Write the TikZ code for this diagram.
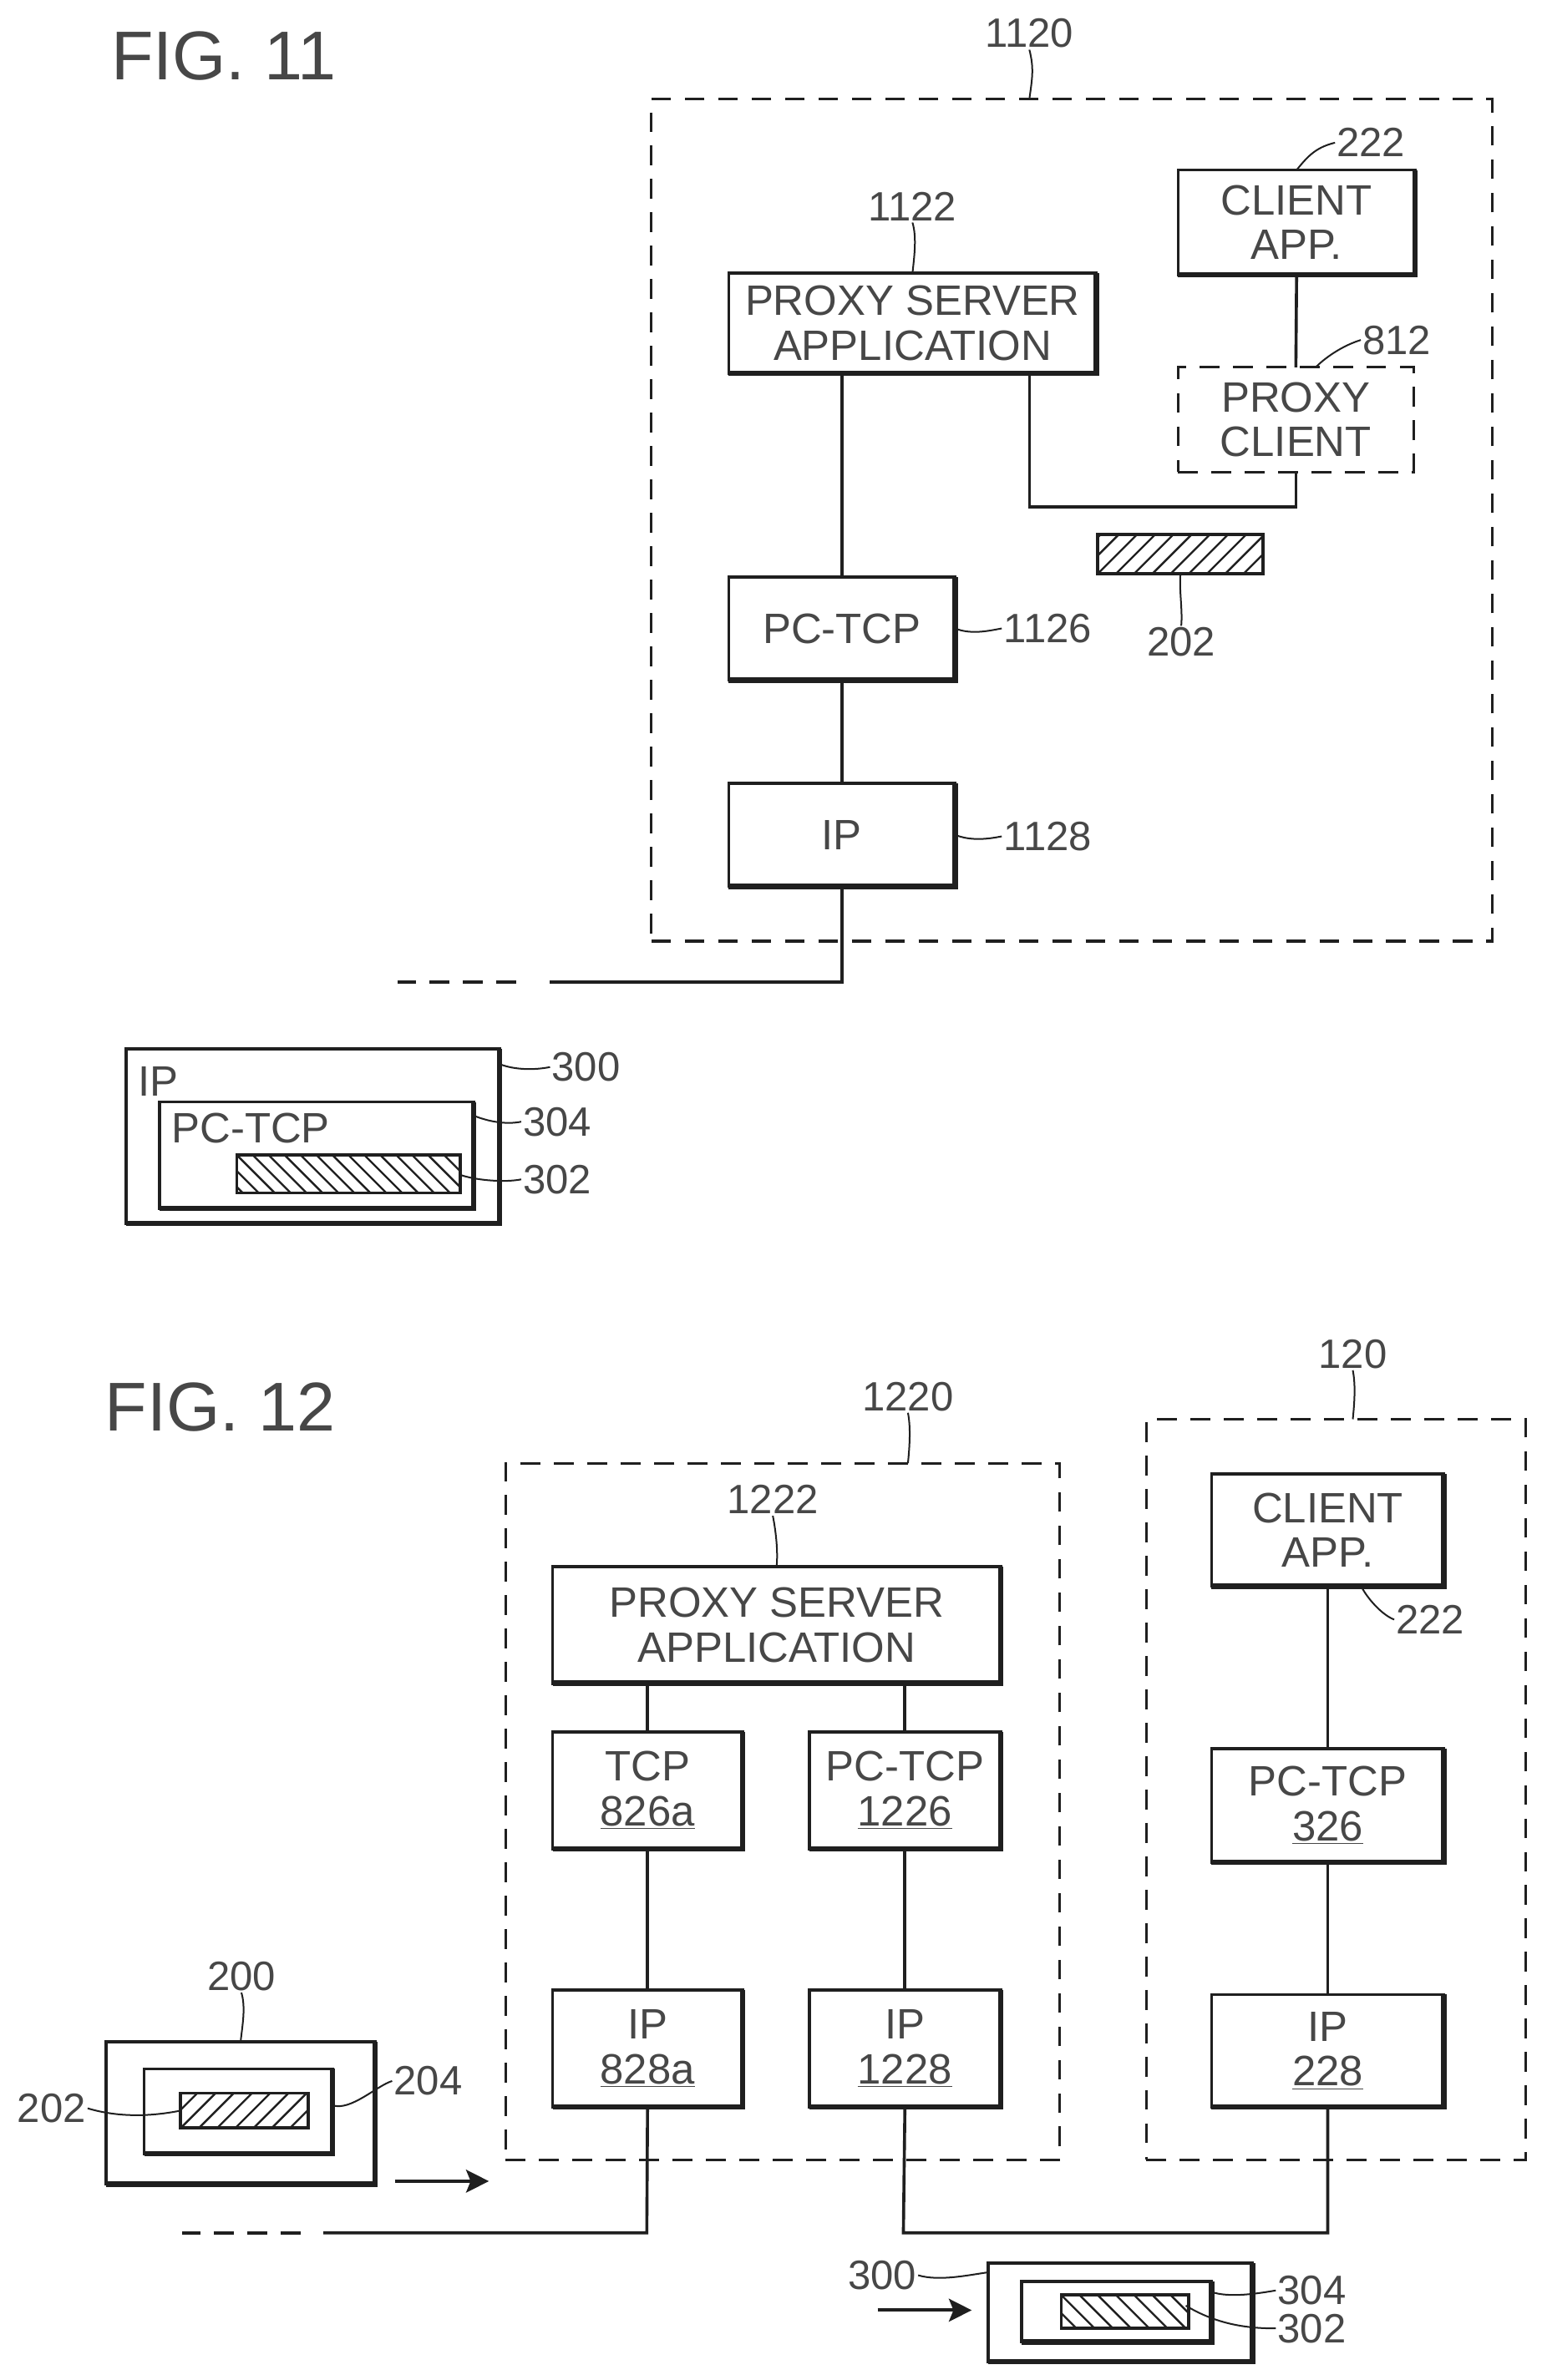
\documentclass[tikz,border=0pt]{standalone}
\usepackage{fontspec}
\setmainfont{Liberation Sans}
\usetikzlibrary{calc,arrows.meta}
\definecolor{ink}{gray}{0.12}
\definecolor{txt}{gray}{0.28}
\tikzset{
  base/.style={inner sep=0pt,outer sep=0pt,align=center,text=txt,font=\fontsize{28}{29.5}\selectfont},
  plain/.style={base,draw=ink,line width=2pt},
  dbox/.style={base,draw=ink,line width=1.8pt,dash pattern=on 13pt off 9pt},
  wire/.style={draw=ink,line width=2pt},
  thick edge/.style={draw=ink,line width=3.6pt,line cap=square},
  lab/.style={text=txt,font=\fontsize{27}{27}\selectfont,inner sep=1pt},
  lead/.style={draw=ink,line width=1.1pt},
  figlab/.style={text=txt,font=\fontsize{45.5}{45.5}\selectfont,inner sep=0pt,anchor=west},
  dashwire/.style={draw=ink,line width=2pt,dash pattern=on 13pt off 9pt},
  flow/.style={draw=ink,line width=2.2pt,-{Stealth[length=15pt,width=15pt,inset=3pt]}},
  hline/.style={draw=ink,line width=1.3pt}
}
\newcommand{\mybox}[6]{%
  \node[plain,minimum width={(#4-#2)*1pt},minimum height={(#5-#3)*1pt}] (#1) at ({(#2+#4)/2},{(#3+#5)/2}) {#6};
  \draw[thick edge] (#1.south west) -- (#1.south east) -- (#1.north east);}
\newcommand{\mydash}[6]{%
  \node[dbox,minimum width={(#4-#2)*1pt},minimum height={(#5-#3)*1pt}] (#1) at ({(#2+#4)/2},{(#3+#5)/2}) {#6};}
% name,x1,y1,x2,y2,spacing,sign (1 = /, -1 = \)
\newcommand{\hatchbox}[7]{%
  \begin{scope}
    \clip (#2,#3) rectangle (#4,#5);
    \foreach \i in {-20,...,30} {
      \ifnum#7=1
        \draw[hline] ({#2+\i*#6},#5) -- ++(40,-40);
      \else
        \draw[hline] ({#2+\i*#6},#3) -- ++(40,40);
      \fi
    }
  \end{scope}
  \node[plain,minimum width={(#4-#2)*1pt},minimum height={(#5-#3)*1pt}] (#1) at ({(#2+#4)/2},{(#3+#5)/2}) {};}
\begin{document}
\begin{tikzpicture}[x=1pt,y=-1pt]
\useasboundingbox (0,0) rectangle (1015.6,1568);
\fill[white] (0,0) rectangle (1015.6,1568);

%%%% FIG. 11
\node[figlab] (fig11) at (73,37) {FIG. 11};
\mydash{big}{429}{65}{983}{620}{}
\mybox{capp}{776}{112}{932}{181}{CLIENT\\APP.}
\mybox{psa}{480}{180}{722}{246}{PROXY SERVER\\APPLICATION}
\mydash{pcl}{776}{242}{931}{311}{PROXY\\CLIENT}
\hatchbox{h202}{723}{352}{832}{378}{12}{1}
\mybox{pct}{480}{380}{629}{448}{PC-TCP}
\mybox{ipa}{480}{516}{629}{584}{IP}

\coordinate (j1) at (678,334);
\coordinate (w1) at (362,647);
\coordinate (d1) at (340,647);
\coordinate (d2) at (262,647);
\draw[wire] (pct.north |- psa.south) -- (pct.north);
\draw[wire] (j1 |- psa.south) -- (j1) -- (j1 -| pcl.south) -- (pcl.south);
\draw[wire] (capp.south) -- (pcl.north);
\draw[wire] (pct.south) -- (ipa.north);
\draw[wire] (ipa.south) -- (ipa.south |- w1) -- (w1);
\draw[dashwire] (d1) -- (d2);

\node[lab] (l1120) at (678,22) {1120};
\node[lab] (l222a) at (903,94) {222};
\node[lab] (l1122) at (601,136) {1122};
\node[lab] (l812) at (920,224) {812};
\node[lab] (l202a) at (778,423) {202};
\node[lab] (l1126) at (690,414) {1126};
\node[lab] (l1128) at (690,551) {1128};
\draw[lead] (l1120.south) .. controls +(3,12) and +(2,-14) .. (l1120.south |- big.north);
\draw[lead] (l222a.west) .. controls +(-12,3) and +(8,-10) .. (capp.north);
\draw[lead] (l1122.south) .. controls +(3,10) and +(1,-10) .. (l1122.south |- psa.north);
\draw[lead] (l812.west) .. controls +(-10,3) and +(8,-8) .. ($(pcl.north)+(13,0)$);
\draw[lead] (h202.south) .. controls +(-1,10) and +(1,-10) .. (l202a.north);
\draw[lead] (pct.east) .. controls +(10,4) and +(-10,2) .. (l1126.west);
\draw[lead] (ipa.east) .. controls +(10,4) and +(-10,2) .. (l1128.west);

% packet 300
\mybox{p300}{83}{691}{329}{806}{}
\node[base,anchor=base west] (tip) at (91,722) {IP};
\mybox{p304}{105}{726}{312}{796}{}
\node[base,anchor=base west] (tpc) at (113,753) {PC-TCP};
\hatchbox{p302}{156}{761}{303}{786}{10.5}{-1}
\node[lab] (l300a) at (386,703) {300};
\node[lab] (l304a) at (367,739) {304};
\node[lab] (l302a) at (367,777) {302};
\draw[lead] ($(p300.north east)+(0,10)$) .. controls +(10,4) and +(-10,2) .. (l300a.west);
\draw[lead] ($(p304.north east)+(0,9)$) .. controls +(10,4) and +(-10,2) .. (l304a.west);
\draw[lead] ($(p302.north east)+(0,13)$) .. controls +(12,4) and +(-10,2) .. (l302a.west);

%%%% FIG. 12
\node[figlab] (fig12) at (69,927) {FIG. 12};
\mydash{d1220}{333}{964}{698}{1423}{}
\mydash{d120}{755}{935}{1005}{1423}{}
\mybox{psb}{364}{1032}{659}{1109}{PROXY SERVER\\APPLICATION}
\mybox{tcp}{364}{1141}{489}{1218}{TCP\\\underline{826a}}
\mybox{pc2}{533}{1141}{659}{1218}{PC-TCP\\\underline{1226}}
\mybox{ip8}{364}{1311}{489}{1388}{IP\\\underline{828a}}
\mybox{ip2}{533}{1311}{659}{1388}{IP\\\underline{1228}}
\mybox{cap2}{798}{971}{951}{1045}{CLIENT\\APP.}
\mybox{pc3}{798}{1152}{951}{1227}{PC-TCP\\\underline{326}}
\mybox{ip3}{798}{1314}{951}{1388}{IP\\\underline{228}}

\node[lab] (l1220) at (598,920) {1220};
\node[lab] (l1222) at (509,988) {1222};
\node[lab] (l120) at (891,892) {120};
\node[lab] (l222b) at (942,1067) {222};
\draw[lead] (l1220.south) .. controls +(2,10) and +(1,-10) .. (l1220.south |- d1220.north);
\draw[lead] (l1222.south) .. controls +(2,10) and +(1,-10) .. (psb.north);
\draw[lead] (l120.south) .. controls +(2,10) and +(1,-10) .. (l120.south |- d120.north);
\draw[lead] (l222b.west) .. controls +(-8,-3) and +(4,8) .. ($(cap2.south)+(22,0)$);

\coordinate (j2) at (426,1471);
\coordinate (w2) at (213,1471);
\coordinate (d3) at (198,1471);
\coordinate (d4) at (120,1471);
\coordinate (j3) at (595,1471);
\coordinate (a1s) at (260,1437);
\coordinate (a1e) at (322,1437);
\coordinate (a2s) at (578,1522);
\coordinate (a2e) at (640,1522);
\draw[wire] (tcp.north |- psb.south) -- (tcp.north);
\draw[wire] (pc2.north |- psb.south) -- (pc2.north);
\draw[wire] (tcp.south) -- (ip8.north);
\draw[wire] (pc2.south) -- (ip2.north);
\draw[wire] (cap2.south) -- (pc3.north);
\draw[wire] (pc3.south) -- (ip3.north);
\draw[wire] (ip8.south) -- (j2) -- (w2);
\draw[dashwire] (d3) -- (d4);
\draw[wire] (ip2.south) -- (j3) -- (j3 -| ip3.south) -- (ip3.south);
\draw[flow] (a1s) -- (a1e);
\draw[flow] (a2s) -- (a2e);

% packet 200
\mybox{p200}{70}{1345}{247}{1439}{}
\mybox{p204}{95}{1363}{219}{1419}{}
\hatchbox{p202}{119}{1379}{203}{1402}{12}{1}
\node[lab] (l200) at (159,1302) {200};
\node[lab] (l204) at (282,1371) {204};
\node[lab] (l202b) at (34,1389) {202};
\draw[lead] (l200.south) .. controls +(3,10) and +(1,-10) .. (p200.north);
\draw[lead] ($(p204.east)+(0,-4)$) .. controls +(12,4) and +(-10,3) .. (l204.west);
\draw[lead] (l202b.east) .. controls +(20,6) and +(-20,4) .. (p202.west);

% packet 300 (fig 12)
\mybox{q300}{651}{1491}{825}{1556}{}
\mybox{q304}{673}{1503}{798}{1543}{}
\hatchbox{q302}{699}{1512}{783}{1534}{12}{-1}
\node[lab] (l300b) at (581,1499) {300};
\node[lab] (l304b) at (864,1509) {304};
\node[lab] (l302b) at (864,1534) {302};
\draw[lead] (l300b.east) .. controls +(14,4) and +(-14,2) .. ($(q300.north west)+(0,6)$);
\draw[lead] ($(q304.north east)+(0,7)$) .. controls +(12,4) and +(-12,2) .. (l304b.west);
\draw[lead] ($(q302.east)+(-2,-4)$) .. controls +(20,12) and +(-20,0) .. (l302b.west);
\end{tikzpicture}
\end{document}
